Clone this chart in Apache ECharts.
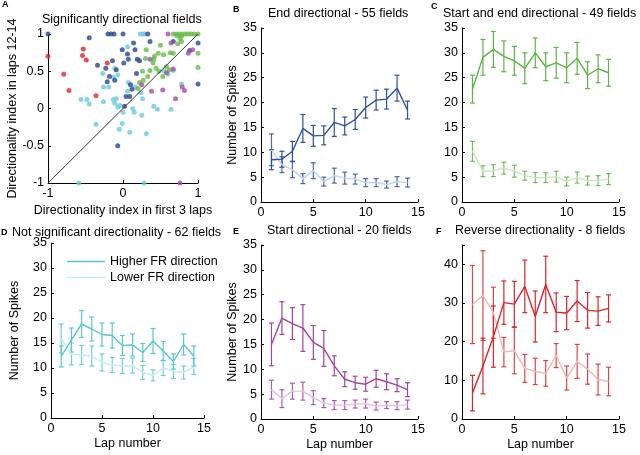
<!DOCTYPE html>
<html><head><meta charset="utf-8">
<script src="https://cdn.jsdelivr.net/npm/echarts@6/dist/echarts.min.js"></script>
<style>html,body{margin:0;padding:0;background:#fff}#c{width:640px;height:455px}</style>
</head><body><div id="c"></div>
<script>
// ---------- data ----------
const laps = [1,2,3,4,5,6,7,8,9,10,11,12,13,14];

const bHigh = [8.5, 8.6, 10.2, 14.8, 13.3, 13.4, 16.0, 15.3, 16.6, 19.0, 20.5, 20.7, 22.9, 18.5];
const bHighErr = [2.0, 1.6, 2.0, 2.8, 2.1, 1.9, 2.8, 1.8, 2.0, 2.1, 2.0, 2.0, 2.6, 1.8];
const bLow = [10.5, 7.5, 6.5, 4.7, 6.3, 4.1, 5.3, 4.8, 4.6, 3.9, 3.9, 3.5, 4.1, 3.9];
const bLowErr = [3.2, 1.6, 1.6, 1.0, 1.6, 0.9, 1.5, 1.2, 1.0, 0.8, 0.8, 0.7, 1.0, 0.9];

const cHigh = [22.7, 29.1, 30.7, 29.3, 28.4, 26.9, 30.0, 27.2, 28.0, 27.0, 28.9, 25.5, 26.8, 26.0];
const cHighErr = [2.8, 3.6, 3.6, 3.1, 2.9, 3.1, 3.0, 2.8, 3.1, 3.0, 3.2, 2.7, 2.8, 2.7];
const cLow = [10.2, 6.2, 6.3, 6.8, 6.2, 5.3, 4.9, 4.9, 5.1, 4.1, 4.9, 4.3, 4.3, 4.6];
const cLowErr = [2.0, 1.1, 1.2, 1.2, 1.2, 0.9, 1.0, 1.0, 1.1, 0.9, 1.1, 0.9, 1.0, 1.1];

const dHigh = [12.3, 15.6, 18.8, 17.8, 16.7, 16.5, 14.5, 14.6, 13.1, 15.4, 13.4, 11.3, 14.7, 12.4];
const dHighErr = [2.1, 2.4, 2.7, 2.4, 2.3, 2.5, 2.0, 2.2, 1.8, 2.5, 1.9, 1.5, 2.1, 2.0];
const dLow = [15.9, 12.8, 12.6, 12.4, 11.1, 10.6, 10.4, 10.5, 9.1, 8.5, 10.0, 9.3, 9.1, 10.3];
const dLowErr = [2.9, 2.2, 1.9, 2.0, 1.7, 1.5, 1.5, 1.5, 1.4, 1.1, 1.5, 1.4, 1.3, 1.6];

const eHigh = [15.0, 20.3, 19.2, 18.3, 15.4, 14.2, 10.7, 8.0, 7.3, 7.0, 8.1, 7.5, 6.8, 5.9];
const eHighErr = [4.3, 3.3, 3.2, 4.7, 3.4, 3.6, 2.0, 1.5, 1.3, 1.4, 1.7, 1.6, 1.3, 1.4];
const eLow = [5.9, 4.1, 5.6, 5.6, 4.3, 3.2, 2.8, 2.8, 3.0, 3.1, 2.6, 2.8, 2.7, 2.9];
const eLowErr = [1.9, 1.8, 1.6, 1.8, 1.4, 0.9, 0.9, 0.9, 0.8, 0.9, 0.8, 0.7, 0.8, 0.9];

const fHigh = [6.7, 13.7, 21.3, 30.1, 29.7, 34.3, 26.5, 34.8, 27.6, 27.4, 30.5, 28.1, 27.9, 28.6];
const fHighErr = [4.6, 7.2, 7.9, 5.6, 5.9, 6.8, 6.6, 7.3, 5.0, 4.3, 5.3, 4.6, 3.7, 3.5];
const fLow = [29.6, 31.9, 27.5, 17.3, 17.7, 13.1, 12.3, 11.8, 16.4, 10.6, 14.9, 12.9, 10.2, 9.7];
const fLowErr = [10.1, 11.6, 6.6, 3.8, 6.0, 3.6, 3.4, 3.3, 3.1, 3.1, 4.4, 3.9, 4.0, 3.7];

// scatter (panel A): [first 3 laps index, laps 12-14 index]
const redPts = [[-1.0,0.70],[-0.53,0.80],[-0.54,0.71],[-0.49,0.65],[-0.79,0.46],[-0.72,0.24],[-0.36,0.17],[-0.21,0.61]];
const navyPts = [[-1,1],[-0.45,0.95],[-0.2,1],[-0.16,1],[-0.12,1],[0,1],[0.14,0.88],[-0.01,0.79],[0.06,0.73],[0.16,0.79],[0.19,0.66],[0.22,0.64],[0.07,0.66],[-0.14,0.64],[0.01,0.61],[-0.34,0.58],[-0.23,0.54],[-0.09,0.52],[-0.21,0.36],[-0.18,0.43],[-0.11,0.38],[0.18,0.47],[0.10,0.32],[0.12,0.26],[0.04,0.16],[0.09,0.16],[0.02,0.03],[-0.07,-0.50],[0.36,0.90],[1.0,0.88],[1.0,0.33],[0.89,0.78],[0.67,0.9],[0.33,1]];
const cyanPts = [[0.23,1],[0.27,1],[0.29,1],[0.06,0.83],[-0.11,0.54],[-0.27,0.47],[-0.13,0.42],[-0.07,0.45],[-0.26,0.29],[-0.19,0.29],[-0.56,0.12],[-0.48,0.12],[-0.45,0.06],[-0.26,0.09],[-0.13,0.12],[-0.09,0.13],[-0.11,0.07],[-0.07,0.02],[-0.04,0.04],[0,-0.05],[-0.36,-0.21],[-0.01,-0.20],[-0.05,-0.28],[0.09,-0.32],[0.31,-0.34],[0.13,0.0],[0.15,-0.05],[0.25,-0.09],[0.41,0.03],[0.46,-0.01],[0.64,-0.01],[0.26,0.13],[0.24,0.21],[0.06,0.23],[0.16,0.29],[0.67,0.51],[0.78,0.33],[-0.59,-1],[0.28,-1],[0.07,0.35],[0.55,0.5],[0.6,0.46]];
const greenPts = [[0.67,1],[0.71,1],[0.75,1],[0.79,1],[0.83,1],[0.87,1],[0.91,1],[0.95,1],[1.0,1],[0.72,0.98],[0.78,0.97],[0.31,0.79],[0.30,0.67],[0.41,0.66],[0.47,0.74],[0.54,0.72],[0.63,0.75],[0.67,0.74],[0.73,0.87],[0.78,0.90],[1.0,0.74],[1.0,0.55],[0.26,0.50],[0.36,0.51],[0.40,0.61],[0.44,0.54],[0.48,0.50],[0.58,0.56],[0.62,0.52],[0.53,0.43],[0.27,0.38],[0.33,0.43],[0.22,0.35],[0.20,0.27],[0.76,0.94],[0.42,0.7],[0.5,0.85]];
const magentaPts = [[0.6,1.0],[0.64,0.88],[0.87,0.74],[0.36,0.66],[0.58,0.48],[0.67,0.53],[0.25,0.32],[0.38,0.23],[0.53,0.25],[0.70,0.13],[0.79,0.29],[0.82,0.24],[0.93,0.79],[0.76,-1.0]];
const diagLine = [[-1,-1],[1,1]];

// ---------- styling ----------
const FONT = "'Liberation Sans', Arial, sans-serif";
const FS = 12.5;
const col = {
  navy: '#2f4f9f', navyL: '#c6d0eb',
  green: '#5cb446', greenL: '#c8e7bf',
  cyan: '#5cc5d5', cyanL: '#c6ebf1',
  mag: '#a4449c', magL: '#e6bfe3',
  red: '#d8262c', redL: '#f3b7b5'
};

function axisBase(extra) {
  return Object.assign({
    type: 'value',
    axisLine: {show: true, onZero: false, lineStyle: {color: '#000', width: 1}},
    axisTick: {show: true, inside: true, length: 3, lineStyle: {color: '#000'}},
    axisLabel: {color: '#000', fontSize: FS, fontFamily: FONT, margin: 4},
    splitLine: {show: false},
    nameTextStyle: {color: '#000', fontSize: FS, fontFamily: FONT},
    nameLocation: 'middle'
  }, extra);
}

const grids = [
  {left: 48, top: 34, width: 150, height: 149},
  {left: 261, top: 28, width: 157, height: 174},
  {left: 462, top: 28, width: 157, height: 174},
  {left: 51, top: 243, width: 153, height: 175},
  {left: 261, top: 245, width: 157, height: 174},
  {left: 462, top: 245, width: 157, height: 174}
];

const xAxes = [
  axisBase({gridIndex: 0, min: -1, max: 1, interval: 1, name: 'Directionality index in first 3 laps', nameGap: 21}),
  axisBase({gridIndex: 1, min: 0, max: 15, interval: 5}),
  axisBase({gridIndex: 2, min: 0, max: 15, interval: 5}),
  axisBase({gridIndex: 3, min: 0, max: 15, interval: 5, name: 'Lap number', nameGap: 19}),
  axisBase({gridIndex: 4, min: 0, max: 15, interval: 5, name: 'Lap number', nameGap: 19}),
  axisBase({gridIndex: 5, min: 0, max: 15, interval: 5, name: 'Lap number', nameGap: 19})
];
const yAxes = [
  axisBase({gridIndex: 0, min: -1, max: 1, interval: 0.5, name: 'Directionality index in laps 12-14', nameGap: 29}),
  axisBase({gridIndex: 1, min: 0, max: 35, interval: 5, name: 'Number of Spikes', nameGap: 22}),
  axisBase({gridIndex: 2, min: 0, max: 35, interval: 5}),
  axisBase({gridIndex: 3, min: 0, max: 35, interval: 5, name: 'Number of Spikes', nameGap: 30}),
  axisBase({gridIndex: 4, min: 0, max: 35, interval: 5, name: 'Number of Spikes', nameGap: 22}),
  axisBase({gridIndex: 5, min: 0, max: 45, interval: 10, axisLabel: {color: '#000', fontSize: FS, fontFamily: FONT, margin: 4, formatter: v => (v === 45 ? '' : String(v))}})
];

function errData(m, e) { return laps.map((x, i) => [x, m[i] - e[i], m[i] + e[i]]); }
function lineData(m) { return laps.map((x, i) => [x, m[i]]); }

function errSeries(idx, m, e, color, op) {
  return {
    type: 'custom', xAxisIndex: idx, yAxisIndex: idx, silent: true,
    data: errData(m, e), encode: {x: 0, y: [1, 2]},
    renderItem: function (params, api) {
      const x = api.value(0);
      const p1 = api.coord([x, api.value(1)]);
      const p2 = api.coord([x, api.value(2)]);
      const w = 2.5;
      const st = {stroke: color, lineWidth: 1.2, opacity: op};
      return {type: 'group', children: [
        {type: 'line', shape: {x1: p1[0], y1: p1[1], x2: p2[0], y2: p2[1]}, style: st},
        {type: 'line', shape: {x1: p1[0] - w, y1: p1[1], x2: p1[0] + w, y2: p1[1]}, style: st},
        {type: 'line', shape: {x1: p2[0] - w, y1: p2[1], x2: p2[0] + w, y2: p2[1]}, style: st}
      ]};
    }
  };
}
function lineSeries(idx, name, m, color) {
  return {type: 'line', name: name, xAxisIndex: idx, yAxisIndex: idx, data: lineData(m),
    symbol: 'none', lineStyle: {color: color, width: 1.4}, itemStyle: {color: color}, silent: true};
}

function panel(idx, hi, hiE, lo, loE, dark, light, hiName, loName) {
  return [
    lineSeries(idx, loName, lo, light),
    errSeries(idx, lo, loE, dark, 0.85),
    errSeries(idx, hi, hiE, dark, 1),
    lineSeries(idx, hiName, hi, dark)
  ];
}

function scat(pts, color) {
  return {type: 'scatter', xAxisIndex: 0, yAxisIndex: 0, data: pts, symbolSize: 5,
    itemStyle: {color: color}, clip: false, silent: true};
}

const series = [
  scat(cyanPts, '#6ccbdc'),
  scat(navyPts, '#2b4694'),
  scat(greenPts, '#65bb45'),
  scat(magentaPts, '#ad4aa4'),
  scat(redPts, '#e0262e'),
  {type: 'line', xAxisIndex: 0, yAxisIndex: 0, data: diagLine, symbol: 'none', lineStyle: {color: '#333', width: 1}, silent: true},
  ...panel(1, bHigh, bHighErr, bLow, bLowErr, col.navy, col.navyL, 'bHigh', 'bLow'),
  ...panel(2, cHigh, cHighErr, cLow, cLowErr, col.green, col.greenL, 'cHigh', 'cLow'),
  ...panel(3, dHigh, dHighErr, dLow, dLowErr, col.cyan, col.cyanL, 'Higher FR direction', 'Lower FR direction'),
  ...panel(4, eHigh, eHighErr, eLow, eLowErr, col.mag, col.magL, 'eHigh', 'eLow'),
  ...panel(5, fHigh, fHighErr, fLow, fLowErr, col.red, col.redL, 'fHigh', 'fLow')
];

function ttl(text, left, top, bold) {
  return {text: text, left: left, top: top, padding: 0,
    textStyle: {fontFamily: FONT, fontSize: bold ? 9 : FS, fontWeight: bold ? 'bold' : 'normal', color: '#000'}};
}

const option = {
  animation: false,
  backgroundColor: '#fff',
  title: [
    ttl('Significantly directional fields', 42, 13),
    ttl('End directional - 55 fields', 268, 7),
    ttl('Start and end directional - 49 fields', 443, 7),
    ttl('Not significant directionality - 62 fields', 12, 226),
    ttl('Start directional - 20 fields', 267, 224),
    ttl('Reverse directionality - 8 fields', 455, 224),
    ttl('A', 2, 0, true), ttl('B', 233, 5, true), ttl('C', 431, 2, true),
    ttl('D', 1, 228, true), ttl('E', 233, 227, true), ttl('F', 436, 227, true)
  ],
  legend: {
    data: [
      {name: 'Higher FR direction', icon: 'rect'},
      {name: 'Lower FR direction', icon: 'rect'}
    ],
    left: 62, top: 250, orient: 'vertical', itemGap: 3, itemWidth: 38, itemHeight: 1.5,
    textStyle: {fontFamily: FONT, fontSize: FS, color: '#000'}, selectedMode: false
  },
  grid: grids,
  xAxis: xAxes,
  yAxis: yAxes,
  series: series
};

const chart = echarts.init(document.getElementById('c'), null, {renderer: 'canvas'});
chart.setOption(option);
</script></body></html>
